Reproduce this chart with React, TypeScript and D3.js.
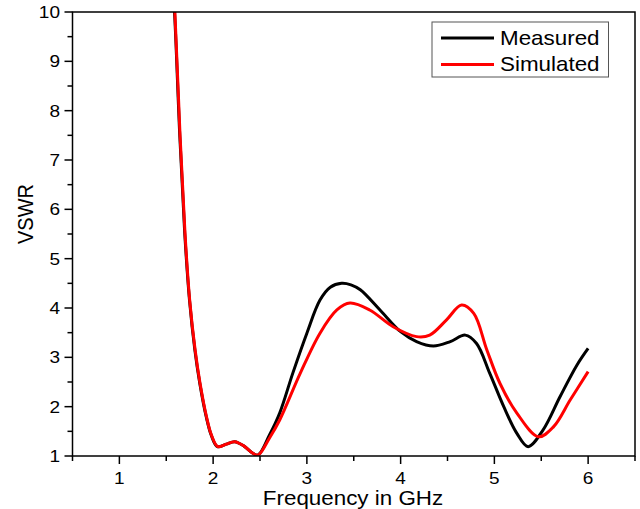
import React from "react";
import * as d3 from "d3";

const measuredFreq = [1.565, 1.588, 1.643, 1.697, 1.748, 1.805, 1.857, 1.927, 1.98, 2.045, 2.14, 2.23, 2.33, 2.42, 2.48, 2.6, 2.71, 2.85, 3.0, 3.14, 3.25, 3.37, 3.47, 3.57, 3.78, 4.0, 4.17, 4.35, 4.53, 4.69, 4.81, 4.95, 5.1, 5.24, 5.36, 5.52, 5.7, 5.88, 6.0];
const measuredVswr = [10.6, 10.0, 7.55, 5.52, 4.16, 3.15, 2.48, 1.79, 1.42, 1.19, 1.24, 1.29, 1.2, 1.06, 1.02, 1.42, 1.87, 2.68, 3.49, 4.16, 4.42, 4.5, 4.47, 4.37, 3.96, 3.52, 3.32, 3.23, 3.32, 3.45, 3.28, 2.68, 2.0, 1.46, 1.19, 1.53, 2.2, 2.84, 3.18];

const simulatedFreq = [1.57, 1.592, 1.646, 1.7, 1.75, 1.808, 1.86, 1.93, 1.983, 2.05, 2.14, 2.23, 2.33, 2.42, 2.48, 2.6, 2.71, 2.93, 3.14, 3.32, 3.46, 3.67, 3.92, 4.17, 4.31, 4.49, 4.65, 4.78, 4.92, 5.06, 5.24, 5.47, 5.63, 5.81, 6.0];
const simulatedVswr = [10.6, 10.0, 7.55, 5.52, 4.16, 3.15, 2.48, 1.79, 1.42, 1.19, 1.24, 1.29, 1.2, 1.06, 1.02, 1.36, 1.73, 2.68, 3.49, 3.96, 4.1, 3.96, 3.62, 3.42, 3.45, 3.76, 4.06, 3.89, 3.15, 2.47, 1.87, 1.39, 1.59, 2.14, 2.71];

const xTicks = [1, 2, 3, 4, 5, 6];
const yTicks = [1, 2, 3, 4, 5, 6, 7, 8, 9, 10];
const seriesNames = ["Measured", "Simulated"];
const seriesColors = ["#000000", "#ff0000"];

const W = 640, H = 509;
const L = 72.5, R = 635, T = 12, B = 456;
const SX = 1.12;
const FONT = "Arial, 'Liberation Sans', Helvetica, sans-serif";

function Txt({ x, y, anchor = "start", size, children }: any) {
  return (
    <g transform={`translate(${x},${y}) scale(${SX},1)`}>
      <text x={0} y={0} textAnchor={anchor} fontSize={size} fontFamily={FONT} fill="#000">{children}</text>
    </g>
  );
}

export default function App() {
  const x = d3.scaleLinear().domain([0.5, 6.5]).range([L, R]);
  const y = d3.scaleLinear().domain([1, 10]).range([B, T]);
  const line = d3.line<[number, number]>().x(d => x(d[0])).y(d => y(d[1])).curve(d3.curveCatmullRom.alpha(0.5));
  const meas = measuredFreq.map((f, i) => [f, measuredVswr[i]] as [number, number]);
  const sim = simulatedFreq.map((f, i) => [f, simulatedVswr[i]] as [number, number]);
  const xMinor = d3.range(0.5, 6.51, 0.5).filter(v => Math.abs(v - Math.round(v)) > 0.01);
  const yMinor = d3.range(1.5, 10, 1);

  return (
    <svg width={W} height={H} style={{ position: "absolute", left: 0, top: 0, background: "#fff" }}>
      <defs>
        <clipPath id="plotclip"><rect x={L} y={T} width={R - L} height={B - T} /></clipPath>
      </defs>
      <rect x={0} y={0} width={W} height={H} fill="#fff" />
      <g clipPath="url(#plotclip)" fill="none" strokeWidth={3} strokeLinejoin="round">
        <path d={line(meas) || ""} stroke={seriesColors[0]} />
        <path d={line(sim) || ""} stroke={seriesColors[1]} />
      </g>
      <rect x={L} y={T} width={R - L} height={B - T} fill="none" stroke="#000" strokeWidth={1.5} />
      {xTicks.map(t => (
        <g key={"xt" + t}>
          <line x1={x(t)} x2={x(t)} y1={B} y2={B + 8} stroke="#000" strokeWidth={1.5} />
          <Txt x={x(t)} y={484} anchor="middle" size={17}>{t}</Txt>
        </g>
      ))}
      {xMinor.map(t => (
        <line key={"xm" + t} x1={x(t)} x2={x(t)} y1={B} y2={B + 5} stroke="#000" strokeWidth={1.5} />
      ))}
      {yTicks.map(t => (
        <g key={"yt" + t}>
          <line x1={L - 8} x2={L} y1={y(t)} y2={y(t)} stroke="#000" strokeWidth={1.5} />
          <Txt x={60} y={y(t) + 6} anchor="end" size={17}>{t}</Txt>
        </g>
      ))}
      {yMinor.map(t => (
        <line key={"ym" + t} x1={L - 5} x2={L} y1={y(t)} y2={y(t)} stroke="#000" strokeWidth={1.5} />
      ))}
      <Txt x={353} y={505} anchor="middle" size={20}>Frequency in GHz</Txt>
      <g transform={`translate(33,214) rotate(-90) scale(1,${SX})`}>
        <text x={0} y={0} textAnchor="middle" fontSize={20} fontFamily={FONT}>VSWR</text>
      </g>
      <rect x={432} y={22} width={176.5} height={55} fill="#fff" stroke="#555" strokeWidth={1} />
      {seriesNames.map((n, i) => (
        <g key={n}>
          <line x1={441} x2={494} y1={38 + i * 26.5} y2={38 + i * 26.5} stroke={seriesColors[i]} strokeWidth={3} />
          <Txt x={500} y={44.5 + i * 26.5} size={20}>{n}</Txt>
        </g>
      ))}
    </svg>
  );
}
